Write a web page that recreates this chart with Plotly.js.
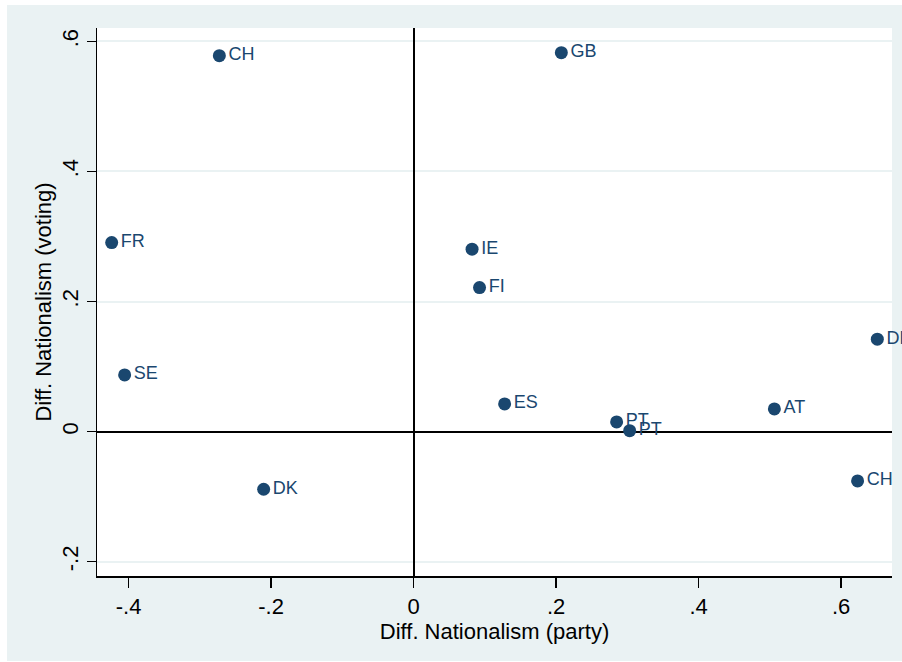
<!DOCTYPE html>
<html>
<head>
<meta charset="utf-8">
<script src="https://cdn.plot.ly/plotly-3.0.1.min.js"></script>
<style>
html, body { margin: 0; padding: 0; background: #ffffff; }
#chart { position: absolute; left: 7px; top: 5px; width: 895px; height: 656px; }
</style>
</head>
<body>
<div id="chart"></div>
<script>
// Country labels
const countries = ["CH", "GB", "FR", "IE", "FI", "SE", "DE", "ES", "PT", "PT", "AT", "CH", "DK"];
// Diff. Nationalism (party)
const partyDiff = [-0.2727, 0.2073, -0.4238, 0.0820, 0.0925, -0.4056, 0.6508, 0.1277, 0.2849, 0.3032, 0.5063, 0.6231, -0.2105];
// Diff. Nationalism (voting)
const votingDiff = [0.5780, 0.5826, 0.2907, 0.2806, 0.2215, 0.0872, 0.1422, 0.0426, 0.0149, 0.0015, 0.0349, -0.0758, -0.0886];

const xTickVals = [-0.4, -0.2, 0, 0.2, 0.4, 0.6];
const xTickText = ["-.4", "-.2", "0", ".2", ".4", ".6"];
const yTickVals = [-0.2, 0, 0.2, 0.4, 0.6];
const yTickText = ["-.2", "0", ".2", ".4", ".6"];

const navy = "#1a476f";
const bg = "#eaf2f3";
const fontFam = "Liberation Sans, Arial, sans-serif";

const trace = {
  type: "scatter",
  mode: "markers+text",
  x: partyDiff,
  y: votingDiff,
  text: countries,
  textposition: "middle right",
  textfont: { family: fontFam, size: 18, color: navy },
  marker: { color: navy, size: 13 },
  cliponaxis: false,
  hoverinfo: "none"
};

const layout = {
  width: 895,
  height: 656,
  margin: { l: 90, r: 10, t: 23, b: 85 },
  paper_bgcolor: bg,
  plot_bgcolor: "#ffffff",
  showlegend: false,
  font: { family: fontFam, size: 22, color: "#000000" },
  xaxis: {
    range: [-0.4444, 0.6714],
    tickmode: "array",
    tickvals: xTickVals,
    ticktext: xTickText,
    ticks: "outside",
    ticklen: 10,
    tickwidth: 1.5,
    tickcolor: "#000000",
    showline: true,
    linecolor: "#000000",
    linewidth: 1.5,
    showgrid: false,
    zeroline: true,
    zerolinecolor: "#000000",
    zerolinewidth: 2,
    tickfont: { family: fontFam, size: 22, color: "#000000" },
    title: { text: "Diff. Nationalism (party)", font: { family: fontFam, size: 22, color: "#000000" }, standoff: 0 },
    automargin: false
  },
  yaxis: {
    range: [-0.222, 0.6206],
    tickmode: "array",
    tickvals: yTickVals,
    ticktext: yTickText,
    tickangle: -90,
    ticks: "outside",
    ticklen: 9,
    tickwidth: 1.5,
    tickcolor: "#000000",
    showline: true,
    linecolor: "#000000",
    linewidth: 1.5,
    showgrid: true,
    gridcolor: bg,
    gridwidth: 2,
    zeroline: true,
    zerolinecolor: "#000000",
    zerolinewidth: 2,
    tickfont: { family: fontFam, size: 22, color: "#000000" },
    title: { text: "Diff. Nationalism (voting)", font: { family: fontFam, size: 22, color: "#000000" }, standoff: 0 },
    automargin: false
  }
};

Plotly.newPlot("chart", [trace], layout, { displayModeBar: false, staticPlot: true });
</script>
</body>
</html>
